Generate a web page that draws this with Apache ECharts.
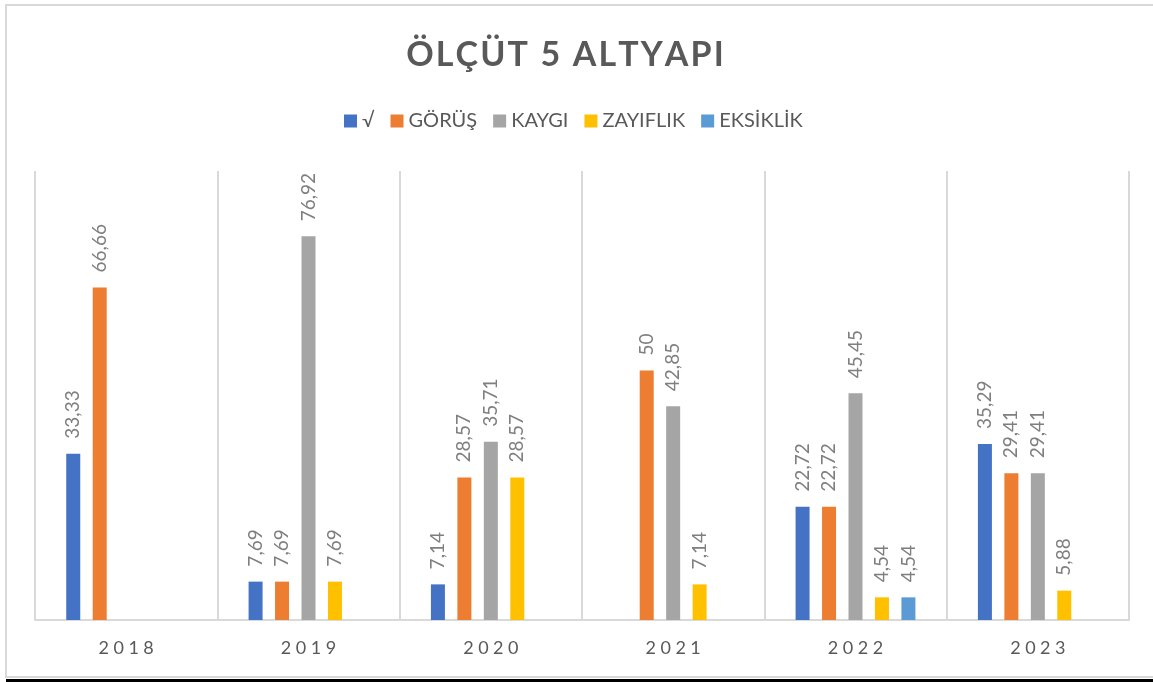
<!DOCTYPE html>
<html>
<head>
<meta charset="utf-8">
<script src="https://cdn.jsdelivr.net/npm/echarts@6/dist/echarts.min.js"></script>
<style>
  html, body { margin: 0; padding: 0; background: #fff; }
  #chartmain { width: 1153px; height: 682px; }
</style>
</head>
<body>
<div id="chartmain"></div>
<script>
var years = ['2018', '2019', '2020', '2021', '2022', '2023'];
var seriesNames = ['√', 'GÖRÜŞ', 'KAYGI', 'ZAYIFLIK', 'EKSİKLİK'];
var colors = ['#4472C4', '#ED7D31', '#A5A5A5', '#FFC000', '#5B9BD5'];

// '-' = no bar in that slot
var tick = [33.33, 7.69, 7.14, '-', 22.72, 35.29];
var gorus = [66.66, 7.69, 28.57, 50, 22.72, 29.41];
var kaygi = ['-', 76.92, 35.71, 42.85, 45.45, 29.41];
var zayiflik = ['-', 7.69, 28.57, 7.14, 4.54, 5.88];
var eksiklik = ['-', '-', '-', '-', 4.54, '-'];

var allData = [tick, gorus, kaygi, zayiflik, eksiklik];

function spaced(s, sep) {
    return s.split('').join(sep);
}

var labelOption = {
    show: true,
    position: 'top',
    rotate: 90,
    align: 'left',
    verticalAlign: 'middle',
    distance: 15,
    color: '#7f7f7f',
    fontFamily: 'Lato',
    fontSize: 19,
    formatter: function (p) {
        return String(p.value).replace('.', ',');
    }
};

var series = [];
for (var i = 0; i < seriesNames.length; i++) {
    series.push({
        name: seriesNames[i],
        type: 'bar',
        barWidth: 14,
        barGap: '89%',
        label: labelOption,
        itemStyle: {color: colors[i]},
        data: allData[i]
    });
}

var myChart = echarts.init(document.getElementById('chartmain'));
var option = {
    animation: false,
    color: colors,
    graphic: [
        {
            type: 'rect',
            shape: {x: 6, y: 5, width: 1170, height: 672},
            style: {fill: 'none', stroke: '#d9d9d9', lineWidth: 2},
            silent: true
        },
        {
            type: 'line',
            shape: {x1: 6, y1: 680.5, x2: 1153, y2: 680.5},
            style: {stroke: '#000', lineWidth: 3},
            silent: true
        }
    ],
    title: {
        text: spaced('ÖLÇÜT 5 ALTYAPI', '\u200A'),
        left: 560,
        top: 33,
        textAlign: 'center',
        textStyle: {
            color: '#595959',
            fontFamily: 'Lato',
            fontWeight: 'bold',
            fontSize: 34
        }
    },
    legend: {
        top: 106,
        left: 339,
        itemWidth: 13,
        itemHeight: 13,
        itemGap: 16,
        icon: 'rect',
        textStyle: {color: '#595959', fontFamily: 'Lato', fontSize: 20},
        data: seriesNames
    },
    grid: {
        left: 35,
        right: 24,
        top: 171,
        bottom: 62,
        containLabel: false
    },
    xAxis: {
        type: 'category',
        data: years,
        axisLine: {lineStyle: {color: '#d9d9d9', width: 2}},
        axisTick: {show: false},
        splitLine: {show: true, interval: 0, lineStyle: {color: '#d9d9d9', width: 2}},
        axisLabel: {
            margin: 19,
            color: '#595959',
            fontFamily: 'Lato',
            fontSize: 18,
            formatter: function (v) { return spaced(v, '\u2005'); }
        }
    },
    yAxis: {
        type: 'value',
        min: 0,
        max: 90,
        show: false,
        splitLine: {show: false}
    },
    series: series
};
myChart.setOption(option);
</script>
</body>
</html>
